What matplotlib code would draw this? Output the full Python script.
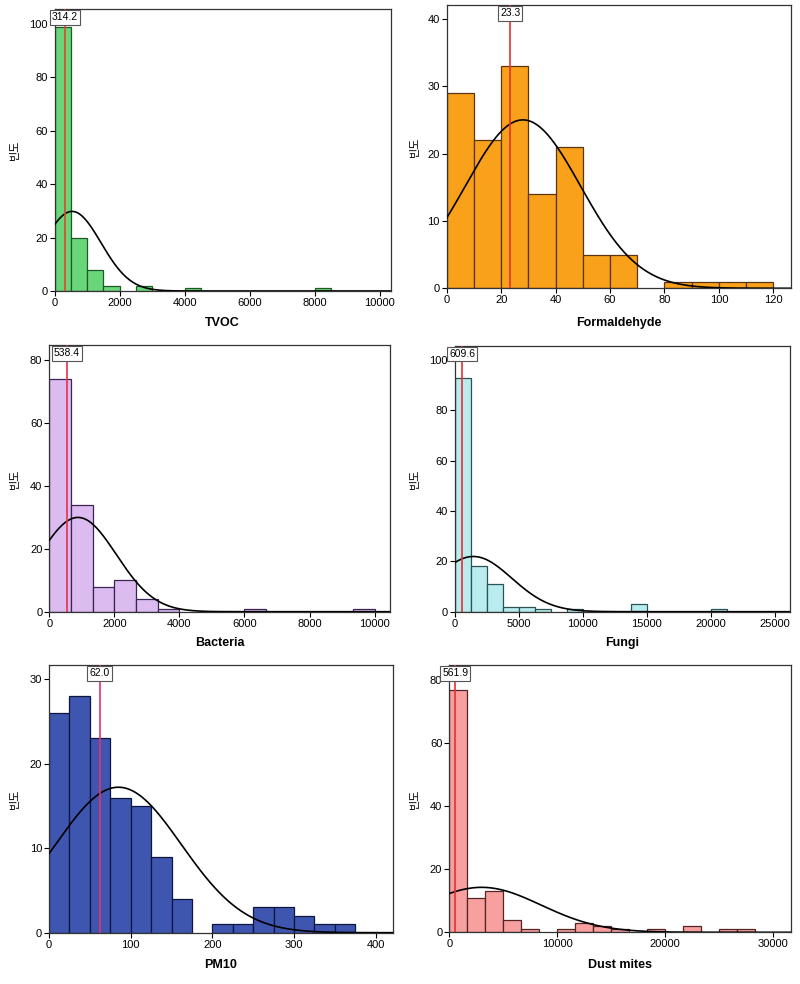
import numpy as np
import matplotlib
matplotlib.use('Agg')
import matplotlib.pyplot as plt
import matplotlib.transforms as mtransforms

plt.rcParams['font.family'] = ['Liberation Sans', 'Noto Sans CJK KR', 'DejaVu Sans']

# ---------------- data ----------------
tvoc_bin_width = 500
tvoc_counts = [99, 20, 8, 2, 0, 2, 0, 0, 1, 0, 0, 0, 0, 0, 0, 0, 1]
tvoc_median = 314.2
tvoc_mean, tvoc_sd = 540, 890

form_bin_width = 10
form_counts = [29, 22, 33, 14, 21, 5, 5, 0, 1, 1, 1, 1]
form_median = 23.3
form_mean, form_sd = 28, 21.2

bact_bin_width = 10000 / 15
bact_counts = [74, 34, 8, 10, 4, 1, 0, 0, 0, 1, 0, 0, 0, 0, 1]
bact_median = 538.4
bact_mean, bact_sd = 880, 1180

fungi_bin_width = 1250
fungi_counts = [93, 18, 11, 2, 2, 1, 0, 1, 0, 0, 0, 3, 0, 0, 0, 0, 1]
fungi_median = 609.6
fungi_mean, fungi_sd = 1470, 3000

pm_bin_width = 25
pm_counts = [26, 28, 23, 16, 15, 9, 4, 0, 1, 1, 3, 3, 2, 1, 1]
pm_median = 62.0
pm_mean, pm_sd = 85, 77

dust_bin_width = 30000 / 18
dust_counts = [77, 11, 13, 4, 1, 0, 1, 3, 2, 1, 0, 1, 0, 2, 0, 1, 1]
dust_median = 561.9
dust_mean, dust_sd = 3000, 5500

panels = [
    dict(name='TVOC', w=tvoc_bin_width, c=tvoc_counts, med=tvoc_median, mu=tvoc_mean, sd=tvoc_sd,
         face='#6ad67a', edge='#1f5a24', line='#e0452c',
         rect=[54.5, 9, 390.7, 291], xlim=10340, ylim=105.6,
         xt=np.arange(0, 10001, 2000), yt=np.arange(0, 101, 20), ylx=15, xly=322.7),
    dict(name='Formaldehyde', w=form_bin_width, c=form_counts, med=form_median, mu=form_mean, sd=form_sd,
         face='#f9a11b', edge='#5a3510', line='#e83030',
         rect=[446.7, 5, 790.7, 288.3], xlim=126.4, ylim=42.1,
         xt=np.arange(0, 121, 20), yt=np.arange(0, 41, 10), ylx=415, xly=322.7),
    dict(name='Bacteria', w=bact_bin_width, c=bact_counts, med=bact_median, mu=bact_mean, sd=bact_sd,
         face='#dcbcf0', edge='#3c2452', line='#e8304a',
         rect=[49.3, 345, 390.3, 611.7], xlim=10483, ylim=84.8,
         xt=np.arange(0, 10001, 2000), yt=np.arange(0, 81, 20), ylx=15, xly=643.3),
    dict(name='Fungi', w=fungi_bin_width, c=fungi_counts, med=fungi_median, mu=fungi_mean, sd=fungi_sd,
         face='#b8ecee', edge='#2c5254', line='#e83030',
         rect=[454.5, 345.7, 790.5, 611.7], xlim=26228, ylim=105.7,
         xt=np.arange(0, 25001, 5000), yt=np.arange(0, 101, 20), ylx=415, xly=643.3),
    dict(name='PM10', w=pm_bin_width, c=pm_counts, med=pm_median, mu=pm_mean, sd=pm_sd,
         face='#3f56b0', edge='#0e1640', line='#e8306a',
         rect=[49, 665, 392.7, 932.7], xlim=420.8, ylim=31.7,
         xt=np.arange(0, 401, 100), yt=np.arange(0, 31, 10), ylx=15, xly=965),
    dict(name='Dust mites', w=dust_bin_width, c=dust_counts, med=dust_median, mu=dust_mean, sd=dust_sd,
         face='#f8a0a0', edge='#522424', line='#e83030',
         rect=[449.2, 665, 790.7, 932.3], xlim=31610, ylim=84.8,
         xt=np.arange(0, 30001, 10000), yt=np.arange(0, 81, 20), ylx=415, xly=965),
]

W, H = 800, 984
fig = plt.figure(figsize=(W / 100, H / 100), dpi=100)

for p in panels:
    l, t, r, b = p['rect']
    ax = fig.add_axes([l / W, 1 - b / H, (r - l) / W, (b - t) / H])
    counts = np.array(p['c'], dtype=float)
    edges = np.arange(len(counts)) * p['w']
    mask = counts > 0
    ax.bar(edges[mask], counts[mask], width=p['w'], align='edge',
           color=p['face'], edgecolor=p['edge'], linewidth=0.9, zorder=2)
    # normal curve
    n = counts.sum()
    xs = np.linspace(0, p['xlim'], 600)
    ys = n * p['w'] / (p['sd'] * np.sqrt(2 * np.pi)) * np.exp(-(xs - p['mu']) ** 2 / (2 * p['sd'] ** 2))
    ax.plot(xs, ys, color='black', lw=1.2, zorder=3)
    # median line
    ax.axvline(p['med'], color=p['line'], lw=1.2, zorder=4)
    trans = mtransforms.blended_transform_factory(ax.transData, ax.transAxes)
    ax.annotate(f"{p['med']:.1f}", xy=(p['med'], 1), xycoords=trans,
                xytext=(0, -2.5), textcoords='offset points',
                ha='center', va='top', fontsize=7.5, zorder=6,
                bbox=dict(boxstyle='square,pad=0.2', fc='white', ec='#555555', lw=0.8))
    ax.set_xlim(0, p['xlim'])
    ax.set_ylim(0, p['ylim'])
    ax.set_xticks(p['xt'])
    ax.set_yticks(p['yt'])
    ax.tick_params(labelsize=8, length=3.5, width=0.8, direction='out', pad=1.5, colors='black')
    for s in ax.spines.values():
        s.set_linewidth(0.9)
        s.set_color('#333333')
    ax.set_xlabel(p['name'], fontsize=9, fontweight='bold')
    ax.xaxis.label.set_va('center')
    ax.xaxis.set_label_coords(0.5, -(p['xly'] - b) / (b - t))
    ax.set_ylabel('빈도', fontsize=8, family=['Noto Sans CJK KR', 'DejaVu Sans'])
    ax.yaxis.label.set_va('center')
    ax.yaxis.set_label_coords(-(l - p['ylx']) / (r - l), 0.5)

fig.savefig('out.png', dpi=100, facecolor='white')
